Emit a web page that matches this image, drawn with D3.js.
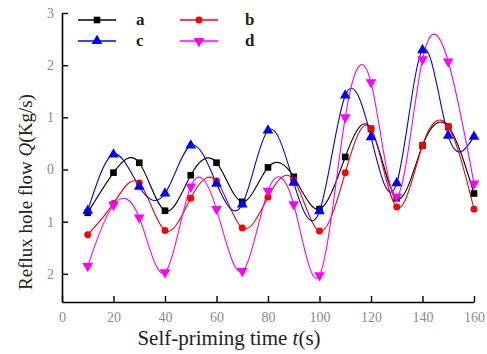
<!DOCTYPE html>
<html><head><meta charset="utf-8">
<script src="https://cdn.jsdelivr.net/npm/d3@7"></script>
<style>body{margin:0;background:#fff}svg{display:block}</style>
</head><body>
<svg id="c" width="487" height="354"></svg>
<script>
const times = [10,20,30,40,50,60,70,80,90,100,110,120,130,140,150,160];
const seriesA = [-0.83,-0.06,0.13,-0.79,-0.11,0.13,-0.62,0.04,-0.14,-0.76,0.24,0.78,-0.55,0.46,0.82,-0.46];
const seriesB = [-1.25,-0.65,-0.26,-1.17,-0.55,-0.22,-1.12,-0.53,-0.2,-1.18,-0.06,0.78,-0.72,0.46,0.82,-0.76];
const seriesC = [-0.79,0.29,-0.33,-0.46,0.46,-0.27,-0.67,0.75,-0.25,-0.8,1.42,0.62,-0.26,2.29,0.65,0.63];
const seriesD = [-1.85,-0.68,-0.92,-1.97,-0.33,-0.76,-1.95,-0.41,-0.67,-2.03,1.0,1.67,-0.52,2.11,2.07,-0.27];
const seriesNames = ["a","b","c","d"];
const xTicks = [0,20,40,60,80,100,120,140,160];
const yTicks = [3,2,1,0,-1,-2];
const yTickLabels = ["3","2","1","0","1","2"];

const svg = d3.select("#c");
const x = d3.scaleLinear().domain([0,160]).range([62,474]);
const y = d3.scaleLinear().domain([-2.54,3]).range([302,13]);

const styles = [
  {color:"#000000", sym:d3.symbolSquare, size:44},
  {color:"#ff0000", sym:d3.symbolCircle, size:38},
  {color:"#0000ff", sym:d3.symbolTriangle, size:50},
  {color:"#ff00ff", sym:d3.symbolTriangle, size:50, rot:180}
];
const allSeries = [seriesA, seriesB, seriesC, seriesD];

// axes
const xAxis = d3.axisBottom(x).tickValues(xTicks).tickSizeInner(-6).tickSizeOuter(0).tickPadding(10);
const gx = svg.append("g").attr("transform","translate(0,302)").call(xAxis);
const yAxis = d3.axisLeft(y).tickValues(yTicks).tickSizeInner(-6).tickSizeOuter(0).tickPadding(8)
  .tickFormat((d,i)=>yTickLabels[i]);
const gy = svg.append("g").attr("transform","translate(62,0)").call(yAxis);
[gx,gy].forEach(g=>{
  g.attr("font-family",null).attr("font-size",null);
  g.select(".domain").attr("stroke","#000").attr("stroke-width",1.6);
  g.selectAll(".tick line").attr("stroke","#000").attr("stroke-width",1.4);
  g.selectAll(".tick text").attr("fill","#8a8a8a")
    .style("font-family","'Liberation Serif', serif").style("font-size","14px");
});

// lines
const line = d3.line().x((d,i)=>x(times[i])).y(d=>y(d)).curve(d3.curveNatural);
allSeries.forEach((s,k)=>{
  svg.append("path").attr("d",line(s)).attr("fill","none")
    .attr("stroke",styles[k].color).attr("stroke-width",1.1);
});
allSeries.forEach((s,k)=>{
  const st = styles[k];
  const sym = d3.symbol().type(st.sym).size(st.size);
  svg.append("g").selectAll("path").data(s).join("path")
    .attr("d",sym)
    .attr("transform",(d,i)=>`translate(${x(times[i])},${y(d)})` + (st.rot?` rotate(${st.rot})`:""))
    .attr("fill",st.color);
});

// legend
const legPos = [[78,20],[180,20],[78,41],[180,41]];
seriesNames.forEach((n,k)=>{
  const [lx,ly] = legPos[k];
  const st = styles[k];
  const g = svg.append("g");
  g.append("line").attr("x1",lx).attr("x2",lx+38).attr("y1",ly).attr("y2",ly)
    .attr("stroke",st.color).attr("stroke-width",1.6);
  g.append("path").attr("d",d3.symbol().type(st.sym).size(st.size)())
    .attr("transform",`translate(${lx+19},${ly})`+(st.rot?` rotate(${st.rot})`:""))
    .attr("fill",st.color);
  g.append("text").attr("x",lx+(k%2===0?58:65)).attr("y",ly+5)
    .attr("font-family","Liberation Serif").attr("font-weight","bold").attr("font-size",17)
    .attr("fill","#2a2016").text(n);
});

// axis titles
const xt = svg.append("text").attr("x",229).attr("y",345).attr("text-anchor","middle")
  .attr("font-family","Liberation Serif").attr("font-size",21).attr("fill","#2a2016");
xt.append("tspan").text("Self-priming time ");
xt.append("tspan").attr("font-style","italic").text("t");
xt.append("tspan").text("(s)");

const yt = svg.append("text").attr("transform","translate(32,192) rotate(-90)").attr("text-anchor","middle")
  .attr("font-family","Liberation Serif").attr("font-size",19).attr("fill","#2a2016");
yt.append("tspan").text("Reflux hole flow ");
yt.append("tspan").attr("font-style","italic").text("Q");
yt.append("tspan").text("(Kg/s)");
</script>
</body></html>
